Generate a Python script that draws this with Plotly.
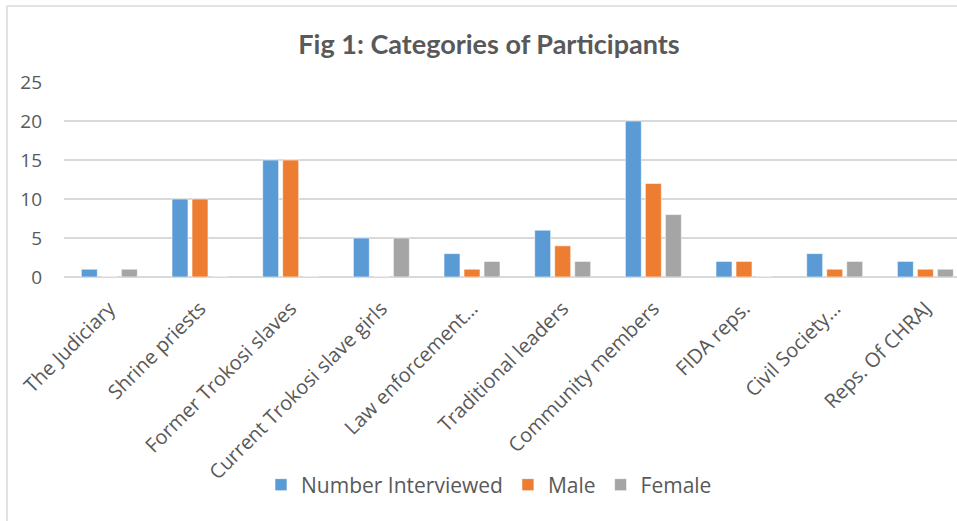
import plotly.graph_objects as go

categories = ["The Judiciary", "Shrine priests", "Former Trokosi slaves",
              "Current Trokosi slave girls", "Law enforcement…", "Traditional leaders",
              "Community members", "FIDA reps.", "Civil Society…", "Reps. Of CHRAJ"]
interviewed = [1, 10, 15, 5, 3, 6, 20, 2, 3, 2]
male = [0, 10, 15, 0, 1, 4, 12, 2, 1, 1]
female = [1, 0, 0, 5, 2, 2, 8, 0, 2, 1]
y_ticks = [0, 5, 10, 15, 20, 25]

FONT = "Open Sans"
TFONT = "Lato"
TXT = "#595959"

fig = go.Figure()
for name, vals, col in [("Number Interviewed", interviewed, "#5B9BD5"),
                        ("Male", male, "#ED7D31"),
                        ("Female", female, "#A5A5A5")]:
    fig.add_trace(go.Bar(x=list(range(len(categories))), y=vals, name=name,
                         marker=dict(color=col, line=dict(color="white", width=0.6))))

W, H = 957, 521
L, R, T, B = 64, 0, 82, 244
pw = W - L - R
ph = H - T - B
pitch = 90.67
xmax = -0.5 + pw / pitch

fig.update_layout(
    width=W, height=H,
    margin=dict(l=L, r=R, t=T, b=B, autoexpand=False),
    paper_bgcolor="white", plot_bgcolor="white",
    font=dict(family=FONT, color=TXT),
    barmode="group", bargap=0.338, bargroupgap=0.2,
    title=dict(text="<b>Fig 1: Categories of Participants</b>", x=489 / W, xref="container",
               xanchor="center", y=1 - 45 / H, yref="container", yanchor="middle",
               font=dict(size=27, color=TXT, family=TFONT)),
    xaxis=dict(tickmode="array", tickvals=list(range(len(categories))), ticktext=categories,
               range=[-0.5, xmax], tickangle=-45, tickfont=dict(size=20, color=TXT),
               showgrid=False, showline=False, zeroline=False, ticks="",
               ticklabelstandoff=15),
    yaxis=dict(range=[0, 25], tickvals=y_ticks, tickfont=dict(size=19, color=TXT),
               showgrid=True, gridcolor="#D9D9D9", gridwidth=1.5,
               zeroline=True, zerolinecolor="#D9D9D9", zerolinewidth=1.5,
               showline=False, ticks="", ticklabelstandoff=21),
    legend=dict(orientation="h", x=(489 - L) / pw, xanchor="center",
                y=(277 - 485) / ph, yanchor="middle",
                font=dict(size=21, color=TXT), traceorder="normal"),
    showlegend=True,
)

# chart-area border (left & top visible)
bx = (7 - L) / pw
by = (277 - 6) / ph
fig.add_shape(type="line", xref="paper", yref="paper", x0=bx, x1=bx, y0=by, y1=-(H - 277) / ph,
              line=dict(color="#D9D9D9", width=1.5))
fig.add_shape(type="line", xref="paper", yref="paper", x0=bx, x1=(W - L) / pw + 0.01, y0=by, y1=by,
              line=dict(color="#D9D9D9", width=1.5))

fig.write_html("out.html", config={"displayModeBar": False},
               post_script="document.body.style.margin='0px';document.body.style.overflow='hidden';")
